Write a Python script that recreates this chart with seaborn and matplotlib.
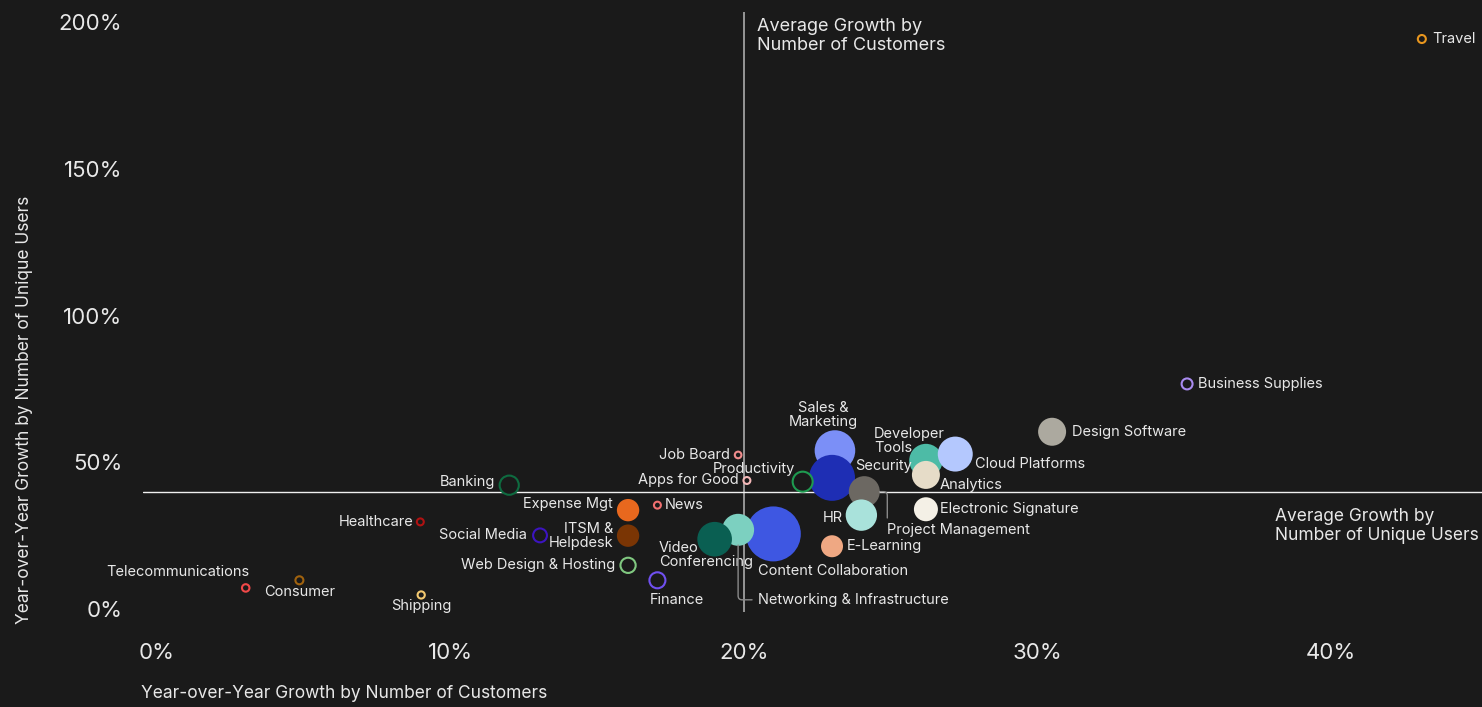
import matplotlib
matplotlib.use("Agg")
import numpy as np
import pandas as pd
import matplotlib.pyplot as plt
import seaborn as sns

# industries, in drawing order (later ones sit on top)
names = [
    "Content Collaboration", "Networking & Infrastructure", "Video Conferencing",
    "Sales & Marketing", "Security", "Project Management", "HR", "E-Learning",
    "Developer Tools", "Cloud Platforms", "Analytics", "Electronic Signature",
    "Design Software", "Expense Mgt", "ITSM &\nHelpdesk",
    "Travel", "Business Supplies", "Productivity", "Job Board", "Apps for Good",
    "News", "Finance", "Web Design & Hosting", "Social Media", "Banking",
    "Healthcare", "Shipping", "Consumer", "Telecommunications",
]
# YoY growth by number of customers (%)
cust_growth = [
    21.0, 19.8, 19.0,
    23.1, 23.0, 24.1, 24.0, 23.0,
    26.2, 27.2, 26.2, 26.2,
    30.5, 16.05, 16.05,
    43.1, 35.1, 22.0, 19.8, 20.1,
    17.05, 17.05, 16.05, 13.05, 12.0,
    8.97, 9.0, 4.85, 3.02,
]
# YoY growth by number of unique users (%)
user_growth = [
    25.6, 27.0, 23.8,
    54.0, 44.7, 40.0, 32.0, 21.4,
    50.6, 52.8, 45.7, 34.0,
    60.4, 33.7, 25.0,
    194.2, 76.7, 43.4, 52.5, 43.8,
    35.4, 9.8, 14.9, 25.1, 42.2,
    29.7, 4.8, 9.8, 7.2,
]
# relative bubble size
bubble = [
    756, 256, 300,
    412, 529, 240, 246, 121,
    279, 306, 196, 144,
    196, 125, 125,
    16, 30, 100, 11, 12,
    12, 64, 58, 48, 92,
    12, 13, 16, 14,
]
filled = [True] * 15 + [False] * 14
colors = [
    "#3E57E2", "#7CD0C0", "#0A5F52",
    "#7B8FF7", "#1E2EB4", "#6C6862", "#A9E2DB", "#EFA883",
    "#4DBBA6", "#B4C8FE", "#E6DCC8", "#F4F0E6",
    "#ACA99F", "#E8681E", "#7A3504",
    "#E8961E", "#A98BF0", "#1E9A50", "#F08C8C", "#F4B8B8",
    "#F07070", "#7050F0", "#80C880", "#3C14C0", "#0E6B40",
    "#B01212", "#F2C870", "#A0620E", "#F04848",
]

avg_cust = 20.0
avg_users = 40.0

x_ticks = [0, 10, 20, 30, 40]
y_ticks = [0, 50, 100, 150, 200]

# label offsets in pixels: (dx, dy down, ha)
label_pos = {
    "Travel": (10, 0, "left"),
    "Business Supplies": (11, 0, "left"),
    "Design Software": (20, 0, "left"),
    "Cloud Platforms": (20, 10, "left"),
    "Developer Tools": (-52, -20, "left"),
    "Analytics": (14, 10, "left"),
    "Electronic Signature": (14, 0, "left"),
    "Security": (23, -12, "left"),
    "Sales & Marketing": (-12, -36, "center"),
    "Productivity": (-8, -13, "right"),
    "HR": (-18, 3, "right"),
    "E-Learning": (15, 0, "left"),
    "Content Collaboration": (-15, 37, "left"),
    "Video Conferencing": (-56, 16, "left"),
    "Job Board": (-8, 0, "right"),
    "Apps for Good": (-8, 0, "right"),
    "News": (7, 0, "left"),
    "Finance": (-8, 20, "left"),
    "Expense Mgt": (-15, -6, "right"),
    "ITSM &\nHelpdesk": (-15, 0, "right"),
    "Web Design & Hosting": (-13, 0, "right"),
    "Social Media": (-13, 0, "right"),
    "Banking": (-14, -3, "right"),
    "Healthcare": (-7, 0, "right"),
    "Shipping": (0, 11, "center"),
    "Consumer": (0, 12, "center"),
    "Telecommunications": (4, -16, "right"),
}
label_text = {"Sales & Marketing": "Sales &\nMarketing",
              "Developer Tools": "Developer\nTools",
              "Video Conferencing": "Video\nConferencing"}

BG = "#1A1A1A"
FG = "#E8E8E8"

sns.set_theme(style="dark", rc={"axes.facecolor": BG, "figure.facecolor": BG})
plt.rcParams["font.family"] = ["Inter", "DejaVu Sans"]

df = pd.DataFrame({"name": names, "x": cust_growth, "y": user_growth,
                   "bubble": bubble, "filled": filled})
palette = dict(zip(names, colors))

fig = plt.figure(figsize=(14.82, 7.07), dpi=100)
ax = fig.add_axes([143 / 1482, 95 / 707, 1 - 143 / 1482, 600 / 707])

# average lines
ax.axvline(avg_cust, color="#A0A0A0", lw=1.3, zorder=1)
ax.axhline(avg_users, color="#F0F0F0", lw=1.0, zorder=1)

size_max = 2.0736 * 1000
sns.scatterplot(data=df[df.filled], x="x", y="y", hue="name", palette=palette,
                size="bubble", sizes=(0, size_max), size_norm=(0, 1000),
                linewidth=0, legend=False, ax=ax, zorder=3)
sns.scatterplot(data=df[~df.filled], x="x", y="y", hue="name", palette=palette,
                size="bubble", sizes=(0, size_max), size_norm=(0, 1000),
                linewidth=1.5, legend=False, ax=ax, zorder=4)
hollow = ax.collections[-1]
hollow.set_edgecolors(hollow.get_facecolors())
hollow.set_facecolors(BG)

# labels
for _, r in df.iterrows():
    if r["name"] not in label_pos:
        continue
    dx, dy, ha = label_pos[r["name"]]
    ax.annotate(label_text.get(r["name"], r["name"]), (r["x"], r["y"]),
                xytext=(dx, -dy), textcoords="offset pixels", ha=ha, va="center",
                multialignment=ha if ha != "center" else "center",
                fontsize=10.5, color=FG, linespacing=1.0, zorder=5)

# labels with leader lines
pm = df[df.name == "Project Management"].iloc[0]
ax.annotate("Project Management", (pm.x, pm.y), xytext=(23, -38),
            textcoords="offset pixels", ha="left", va="center", fontsize=10.5,
            color=FG, zorder=5,
            arrowprops=dict(arrowstyle="-", color="#8A8A8A", lw=1.0, relpos=(0, 1),
                            connectionstyle="angle,angleA=90,angleB=0,rad=4",
                            shrinkA=1, shrinkB=11))
net = df[df.name == "Networking & Infrastructure"].iloc[0]
ax.annotate("Networking & Infrastructure", (net.x, net.y), xytext=(20, -70),
            textcoords="offset pixels", ha="left", va="center", fontsize=10.5,
            color=FG, zorder=5,
            arrowprops=dict(arrowstyle="-", color="#8A8A8A", lw=1.0, relpos=(0, 0.5),
                            connectionstyle="angle,angleA=0,angleB=90,rad=4",
                            shrinkA=2, shrinkB=11))

ax.annotate("Average Growth by\nNumber of Customers", (avg_cust, 203.4),
            xytext=(13, -6), textcoords="offset pixels", ha="left", va="top",
            fontsize=13, color=FG, linespacing=1.15)
ax.annotate("Average Growth by\nNumber of Unique Users", (45.15, avg_users),
            xytext=(-207, -34), textcoords="offset pixels", ha="left", va="center",
            fontsize=12.5, color=FG, linespacing=1.15, annotation_clip=False)

ax.set_xlim(-0.48, 45.15)
ax.set_ylim(-1.0, 203.4)
ax.set_xticks(x_ticks)
ax.set_xticklabels([f"{t}%" for t in x_ticks])
ax.set_yticks(y_ticks)
ax.set_yticklabels([f"{t}%" for t in y_ticks])
ax.tick_params(axis="x", length=0, pad=22, labelsize=16, labelcolor=FG)
ax.tick_params(axis="y", length=0, pad=15, labelsize=16, labelcolor=FG)
ax.set_xlabel("")
ax.set_ylabel("")
ax.grid(False)
for s in ax.spines.values():
    s.set_visible(False)

fig.text(141 / 1482, 1 - 693 / 707, "Year-over-Year Growth by Number of Customers",
         ha="left", va="center", fontsize=12.5, color=FG)
fig.text(25 / 1482, 1 - 410 / 707, "Year-over-Year Growth by Number of Unique Users",
         ha="center", va="center", rotation=90, fontsize=12.5, color=FG)

fig.savefig("out.png", dpi=100, facecolor=BG)
